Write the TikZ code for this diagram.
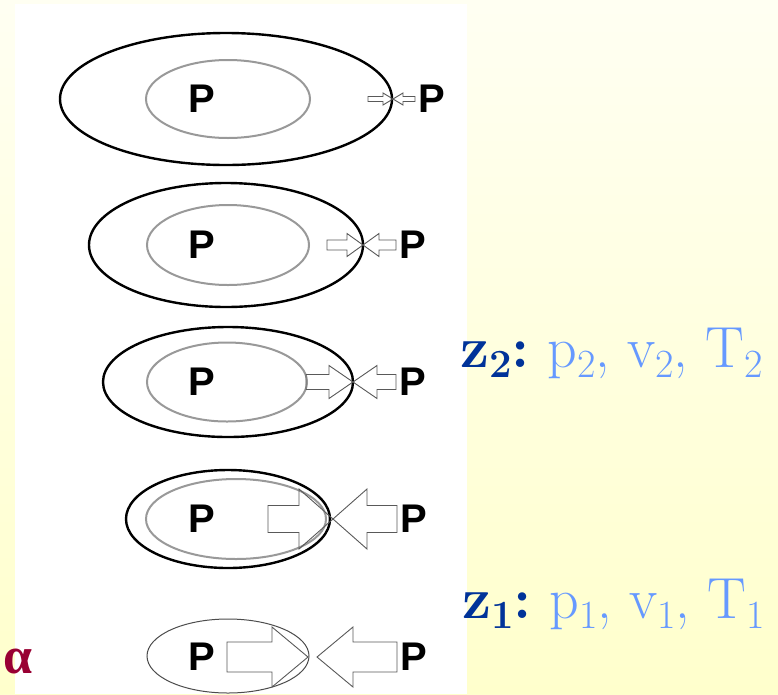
\documentclass[tikz,border=0pt]{standalone}
\usepackage{xcolor}
\usepackage{fontspec}
\newfontfamily\labelfont{Liberation Sans}
\newfontfamily\grecfont{Liberation Serif}
\usepackage{tikz}
\usetikzlibrary{arrows.meta, positioning, calc}

\definecolor{etatbleu}{HTML}{003399}
\definecolor{valbleu}{HTML}{6699FF}
\definecolor{alpharouge}{HTML}{990033}

% indice en texte
\newcommand\indice[1]{\raisebox{-10pt}{\fontsize{40}{40}\selectfont #1}}

\tikzset{
  paroi/.style={black, line width=2.4pt},
  gaz/.style={black!40, line width=2pt},
  poussee/.style={draw=black!65, line width=0.9pt, line join=miter},
  plabel/.style={font=\labelfont\bfseries\fontsize{40}{40}\selectfont, inner sep=0pt},
  etat/.style={font=\fontsize{58}{58}\selectfont, inner sep=0pt, anchor=base west}
}

\begin{document}
\begin{tikzpicture}[x=1pt, y=-1pt]
  % Fond
  \shade[top color=yellow!5, bottom color=yellow!20] (0,0) rectangle (778,694);
  \fill[white] (15,4) rectangle (467,694);

  % Etats successifs de la compression
  \foreach \n/\y/\ox/\rx/\ry/\ix/\irx/\iry/\t/\lt/\rt/\s/\h/\l in {
      1/99/226/166/66/228/82/39/393/368/415/2.5/6/10,
      2/245/226/137/62/228/81/40/363/327/396/5/11.5/16,
      3/382/228/125/55/227/80/39.5/353/306/396/7.5/16.5/24,
      4/519/228/102/49/236/90/40/333/268/397/13.5/30/34} {
    \draw[gaz] (\ix,\y) ellipse[x radius=\irx, y radius=\iry];
    \draw[paroi] (\ox,\y) ellipse[x radius=\rx, y radius=\ry];
    \draw[poussee] (\lt,{\y-\s}) -- ({\t-\l},{\y-\s}) -- ({\t-\l},{\y-\h}) -- (\t,\y)
        -- ({\t-\l},{\y+\h}) -- ({\t-\l},{\y+\s}) -- (\lt,{\y+\s}) -- cycle;
    \draw[poussee] (\rt,{\y-\s}) -- ({\t+\l},{\y-\s}) -- ({\t+\l},{\y-\h}) -- (\t,\y)
        -- ({\t+\l},{\y+\h}) -- ({\t+\l},{\y+\s}) -- (\rt,{\y+\s}) -- cycle;
    \node[plabel] (pint-\n) at (202,\y) {P};
    \node[plabel, anchor=west] (pext-\n) at ({\rt+3},\y) {P};
  }

  % Etat initial
  \draw[black!70, line width=1pt] (228,656) ellipse[x radius=81, y radius=37];
  \draw[poussee] (227,642) -- (272,642) -- (272,627) -- (308,657)
      -- (272,687) -- (272,672) -- (227,672) -- cycle;
  \draw[poussee] (397,642) -- (353,642) -- (353,627) -- (317,657)
      -- (353,687) -- (353,672) -- (397,672) -- cycle;
  \node[plabel] (pint-5) at (202,657) {P};
  \node[plabel, anchor=west] (pext-5) at (400,657) {P};

  % Annotations
  \node[etat] (z2) at (460,367)
      {\textcolor{etatbleu}{\bfseries z\indice{2}:}~\textcolor{valbleu}{p\indice{2}, v\indice{2}, T\indice{2}}};
  \node[etat] (z1) at (462,618)
      {\textcolor{etatbleu}{\bfseries z\indice{1}:}~\textcolor{valbleu}{p\indice{1}, v\indice{1}, T\indice{1}}};
  \node[alpharouge, font=\grecfont\bfseries\fontsize{52}{52}\selectfont, inner sep=0pt] (alpha) at (18,661)
      {α};
\end{tikzpicture}
\end{document}
